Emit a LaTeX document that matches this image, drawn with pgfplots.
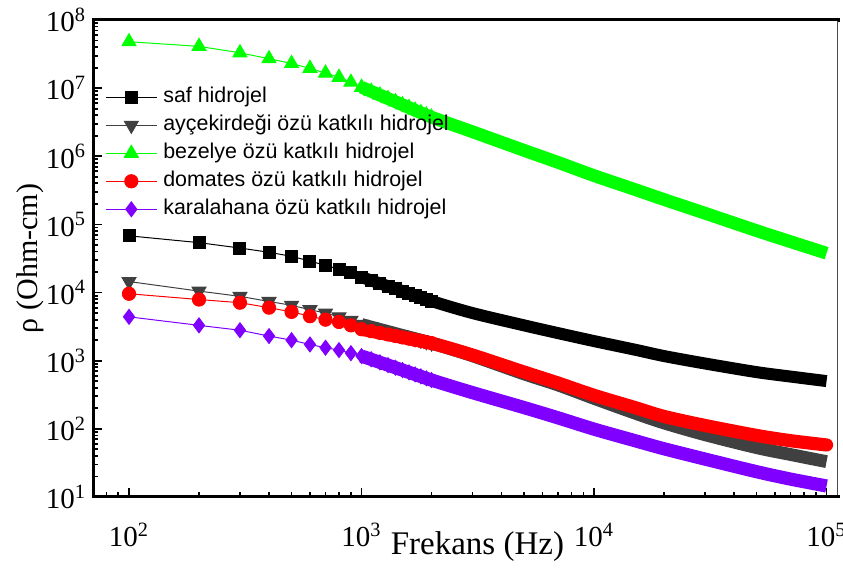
\documentclass[border=0pt]{standalone}
\usepackage{pgfplots}
\pgfplotsset{compat=1.18}
\usepackage{pgfplotstable}
\usepackage{fontspec}
\setmainfont{Liberation Serif}
\newfontfamily\legfont{Liberation Sans}
\definecolor{cgray}{RGB}{64,64,64}
\definecolor{cgreen}{RGB}{0,255,0}
\definecolor{cred}{RGB}{255,0,0}
\definecolor{cpurple}{RGB}{127,0,255}

% low-frequency points (markers)
\pgfplotstableread{
f saf ayc bez dom kar
100 6.8e4 1.45e4 4.8e7 9.6e3 4.4e3
200 5.4e4 1.05e4 4.1e7 7.9e3 3.3e3
300 4.5e4 8.8e3 3.3e7 7.1e3 2.8e3
400 3.9e4 7.4e3 2.7e7 6.0e3 2.3e3
500 3.4e4 6.5e3 2.3e7 5.2e3 2.0e3
600 2.9e4 5.6e3 1.95e7 4.5e3 1.73e3
700 2.5e4 5.0e3 1.66e7 4.0e3 1.55e3
800 2.2e4 4.4e3 1.44e7 3.7e3 1.43e3
900 1.95e4 3.9e3 1.22e7 3.3e3 1.29e3
1000 1.68e4 3.4e3 1.03e7 2.9e3 1.17e3
1100 1.50e4 3.12e3 8.97e6 2.72e3 1.05e3
1200 1.36e4 2.88e3 7.89e6 2.56e3 945
1300 1.24e4 2.68e3 7.03e6 2.43e3 861
1400 1.135e4 2.50e3 6.31e6 2.31e3 789
1500 1.05e4 2.35e3 5.70e6 2.20e3 728
1600 9.7e3 2.22e3 5.19e6 2.11e3 675
1700 9.06e3 2.10e3 4.75e6 2.02e3 629
1800 8.47e3 1.99e3 4.37e6 1.95e3 589
1900 7.96e3 1.90e3 4.04e6 1.87e3 552
2000 7.5e3 1.81e3 3.75e6 1.81e3 520
}\lowf

% dense high-frequency part (markers merged into a band)
\pgfplotstableread{
f saf ayc bez dom kar
1000 1.68e4 3.4e3 1.03e7 2.9e3 1.17e3
1500 1.05e4 2.35e3 5.70e6 2.20e3 728
2000 7.5e3 1.81e3 3.75e6 1.81e3 520
3000 5.0e3 1.18e3 2.29e6 1.21e3 340
5000 3.3e3 640 1.22e6 681 205
7000 2.54e3 440 8.13e5 470 145
10000 1.94e3 280 5.2e5 310 99
15000 1.45e3 170 3.25e5 205 67
20000 1.17e3 122 2.32e5 152 51
30000 910 82 1.46e5 112 36
50000 680 53 8.1e4 80 23.5
70000 585 42 5.58e4 67 18.3
100000 502 33 3.78e4 58 14.5
}\highf

\begin{document}
\begin{tikzpicture}
\begin{axis}[
  scale only axis, width=372.5pt, height=238.5pt,
  xmode=log, ymode=log, log basis x=10, log basis y=10,
  xmin=70, xmax=1.12e5, ymin=10, ymax=1e8,
  xtick={1e2,1e3,1e4,1e5},
  xticklabels={10\textsuperscript{2},10\textsuperscript{3},10\textsuperscript{4},10\textsuperscript{5}},
  ytick={1e1,1e2,1e3,1e4,1e5,1e6,1e7,1e8},
  yticklabels={10\textsuperscript{1},10\textsuperscript{2},10\textsuperscript{3},10\textsuperscript{4},10\textsuperscript{5},10\textsuperscript{6},10\textsuperscript{7},10\textsuperscript{8}},
  minor xtick={80,90,200,300,400,500,600,700,800,900,2000,3000,4000,5000,6000,7000,8000,9000,20000,30000,40000,50000,60000,70000,80000,90000},
  minor ytick={2e1,3e1,4e1,5e1,6e1,7e1,8e1,9e1,2e2,3e2,4e2,5e2,6e2,7e2,8e2,9e2,2e3,3e3,4e3,5e3,6e3,7e3,8e3,9e3,2e4,3e4,4e4,5e4,6e4,7e4,8e4,9e4,2e5,3e5,4e5,5e5,6e5,7e5,8e5,9e5,2e6,3e6,4e6,5e6,6e6,7e6,8e6,9e6,2e7,3e7,4e7,5e7,6e7,7e7,8e7,9e7},
  tick pos=left, tick align=inside,
  major tick length=4.5pt, minor tick length=2.5pt,
  every tick/.style={black, line width=0.9pt},
  axis line style={line width=1.5pt},
  tick label style={font=\fontsize{14.5}{14.5}\selectfont},
  xticklabel style={yshift=-9.5pt},
  xlabel={Frekans (Hz)}, ylabel={ρ (Ohm-cm)},
  xlabel style={font=\fontsize{16.5}{16.5}\selectfont, at={(axis description cs:0.516,-0.105)}, anchor=center},
  ylabel style={font=\fontsize{15}{15}\selectfont, at={(axis description cs:-0.0846,0.5)}, anchor=center},
  clip=false,
  legend cell align=left,
  legend style={at={(rel axis cs:0.016,0.865)}, anchor=north west, draw=none, fill=none,
    inner sep=0pt, row sep=1.5pt, column sep=2pt,
    font={\legfont\fontsize{10.7}{12}\selectfont},
    nodes={inner sep=1pt, text height=8pt, text depth=2.5pt}},
  legend image code/.code={\draw[mark repeat=2, mark phase=2] plot coordinates {(0pt,0pt) (12.75pt,0pt) (25.5pt,0pt)};},
]
% saf hidrojel
\addplot[black, line width=6pt, smooth, forget plot] table[x=f, y=saf]{\highf};
\addplot[black, line width=0.5pt, mark=square*, mark size=3pt, mark options={solid}] table[x=f, y=saf]{\lowf};
\addlegendentry{saf hidrojel}
% aycekirdegi
\addplot[cgray, line width=6.4pt, smooth, forget plot] table[x=f, y=ayc]{\highf};
\addplot[cgray, line width=0.5pt, mark=triangle*, mark size=4pt, mark options={solid, rotate=180}] table[x=f, y=ayc]{\lowf};
\addlegendentry{ayçekirdeği özü katkılı hidrojel}
% bezelye
\addplot[cgreen, line width=6.4pt, smooth, forget plot] table[x=f, y=bez]{\highf};
\addplot[cgreen, line width=0.5pt, mark=triangle*, mark size=4pt, mark options={solid}] table[x=f, y=bez]{\lowf};
\addlegendentry{bezelye özü katkılı hidrojel}
% domates
\addplot[cred, line width=6.6pt, smooth, line cap=round, forget plot] table[x=f, y=dom]{\highf};
\addplot[cred, line width=0.5pt, mark=*, mark size=3.3pt, mark options={solid}] table[x=f, y=dom]{\lowf};
\addlegendentry{domates özü katkılı hidrojel}
% karalahana
\addplot[cpurple, line width=6.6pt, smooth, forget plot] table[x=f, y=kar]{\highf};
\addplot[cpurple, line width=0.5pt, mark=diamond*, mark size=3.7pt, mark options={solid}] table[x=f, y=kar]{\lowf};
\addlegendentry{karalahana özü katkılı hidrojel}
\coordinate (br) at (rel axis cs:1,0);
\coordinate (tr) at (rel axis cs:1,1);
\end{axis}
\draw[white, line width=1.6pt] ([yshift=0.8pt]br) -- ([yshift=-0.8pt]tr);
\draw[black!70, line width=0.5pt] ([yshift=0.75pt]br) -- ([yshift=-0.75pt]tr);
\pgfresetboundingbox
\useasboundingbox ([shift={(-46.5pt,-36pt)}]current axis.south west) rectangle ([shift={(2.5pt,10pt)}]current axis.north east);
\end{tikzpicture}
\end{document}
